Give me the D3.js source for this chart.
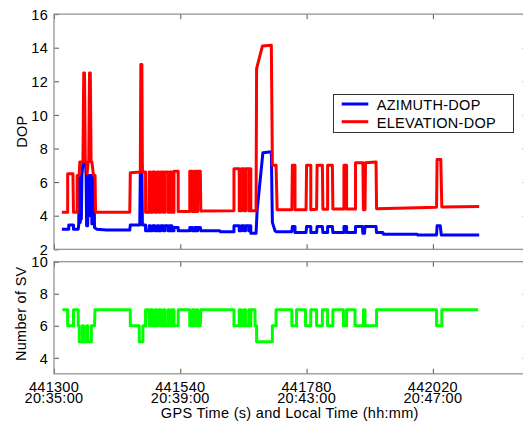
<!DOCTYPE html>
<html><head><meta charset="utf-8">
<script src="https://cdn.jsdelivr.net/npm/d3@7"></script>
<style>
html,body{margin:0;padding:0;background:#fff;}
svg{display:block;font-family:"Liberation Sans",Arial,sans-serif;}
text{font-size:14.5px;letter-spacing:0.3px;fill:#000;}
</style></head>
<body>
<svg id="chart" width="523" height="428"></svg>
<script>
// ---- data ----
const xTicks = [441300, 441540, 441780, 442020];
const xTickGps = ["441300", "441540", "441780", "442020"];
const xTickLocal = ["20:35:00", "20:39:00", "20:43:00", "20:47:00"];
const dopTicks = [2, 4, 6, 8, 10, 12, 14, 16];
const svTicks = [4, 6, 8, 10];
const seriesNames = ["AZIMUTH-DOP", "ELEVATION-DOP"];

// [GPS time (s), DOP]
const azimuthDop = [
[441315,3.2],[441328,3.2],[441328,3.45],[441337,3.45],[441337,3.2],[441346,3.2],[441347,3.45],[441348,6.4],[441350,3.6],[441351,6.4],[441352,3.8],[441353,6.4],[441355,7.1],[441360,7.1],[441361,6.4],[441362,3.4],[441364,3.4],[441365,6.4],[441367,4.0],[441368,6.4],[441371,6.4],[441372,3.5],[441373,6.4],[441376,6.4],[441377,3.3],[441381,3.2],[441400,3.15],[441444,3.15],[441445,3.45],[441463,3.45],[441464,6.5],[441465,7.0],[441467,7.0],[441468,3.45],[441474,3.45],[441474,3.1],[441480,3.1],[441481,3.4],[441483,3.4],[441483,3.1],[441487,3.1],[441487,3.4],[441492,3.4],[441492,3.1],[441496,3.1],[441496,3.4],[441499,3.4],[441500,3.1],[441503,3.1],[441503,3.4],[441508,3.4],[441508,3.1],[441511,3.1],[441511,3.4],[441517,3.4],[441517,3.1],[441520,3.1],[441520,3.4],[441524,3.4],[441524,3.1],[441528,3.1],[441528,3.3],[441536,3.3],[441536,3.1],
[441558,3.1],[441558,3.3],[441563,3.3],[441563,3.1],[441567,3.1],[441567,3.3],[441571,3.3],[441571,3.1],[441573,3.1],[441573,3.3],[441578,3.3],[441579,3.1],[441615,3.1],[441616,3.05],[441642,3.05],[441642,3.4],[441652,3.4],[441652,3.1],[441656,3.1],[441656,3.4],[441661,3.4],[441661,3.1],[441664,3.1],[441664,3.4],[441670,3.4],[441670,3.1],[441672,3.1],[441672,3.4],[441674,3.4],[441674,2.95],[441684,2.95],[441686,4.3],[441697,7.75],[441713,7.8],[441715,3.6],[441720,3.1],[441722,3.05],
[441752,3.05],[441753,3.35],[441758,3.35],[441758,3.0],[441779,3.0],[441780,3.35],[441788,3.35],[441788,3.0],[441799,3.0],[441800,3.35],[441810,3.35],[441811,3.0],[441820,3.0],[441820,3.35],[441829,3.35],[441830,3.0],[441851,3.0],[441851,3.35],[441856,3.35],[441856,3.0],[441873,3.0],[441873,3.35],[441886,3.35],[441887,2.95],[441890,2.95],[441891,3.35],[441912,3.35],[441913,3.0],[441925,3.0],[441926,2.9],[441990,2.9],[441991,2.85],[442027,2.85],[442028,3.4],[442034,3.4],[442036,2.85],[442108,2.85]
];

const elevationDop = [
[441315,4.2],[441326,4.2],[441326,6.5],[441336,6.5],[441337,4.2],[441344,4.2],[441344,6.4],[441348,6.4],[441349,7.2],[441355,7.2],[441356.5,12.5],[441358,12.5],[441359.5,7.2],[441362,7.2],[441363,6.5],[441365,7.2],[441366,7.2],[441367.5,12.5],[441369,12.5],[441370.5,7.2],[441372,7.2],[441375,6.4],[441378,6.4],[441379,4.2],
[441444,4.2],[441445,6.55],[441464,6.6],[441465,13.0],[441467,13.0],[441468,6.6],[441474,6.6],[441474,4.2],[441480,4.2],[441481,6.6],[441483,6.6],[441483,4.2],[441487,4.2],[441487,6.6],[441492,6.6],[441492,4.2],[441496,4.2],[441496,6.6],[441499,6.6],[441500,4.2],[441503,4.2],[441503,6.6],[441508,6.6],[441508,4.2],[441511,4.2],[441511,6.6],[441517,6.6],[441517,4.2],[441520,4.2],[441520,6.6],[441524,6.6],[441524,4.2],[441528,4.2],[441528,6.65],[441536,6.65],[441536,4.25],
[441558,4.25],[441558,6.65],[441563,6.65],[441563,4.25],[441567,4.25],[441567,6.65],[441571,6.65],[441571,4.25],[441573,4.25],[441573,6.65],[441578,6.65],[441579,4.28],
[441642,4.3],[441642,6.8],[441652,6.8],[441652,4.3],[441656,4.3],[441656,6.8],[441661,6.8],[441661,4.3],[441664,4.3],[441664,6.8],[441670,6.8],[441670,4.3],[441672,4.3],[441672,6.8],[441674,6.8],[441674,4.3],[441684,4.3],[441685,12.75],[441696,14.1],[441713,14.15],[441715,7.0],[441722,7.0],[441724,4.35],
[441752,4.35],[441753,7.0],[441758,7.0],[441758,4.35],[441779,4.35],[441780,7.0],[441788,7.0],[441788,4.35],[441799,4.38],[441800,7.0],[441810,7.0],[441811,4.38],[441820,4.38],[441820,7.0],[441829,7.0],[441830,4.4],[441851,4.4],[441851,7.0],[441856,7.0],[441856,4.4],[441873,4.4],[441873,7.15],[441887,7.15],[441888,4.35],[441891,4.35],[441892,7.15],[441912,7.2],[441913,4.42],[442027,4.5],[442028,7.35],[442035,7.35],[442037,4.52],[442108,4.55]
];

// [GPS time (s), number of satellites]
const svCount = [
[441316,7],[441326,7],[441326,6],[441337,6],[441337,7],[441346,7],[441346,6],[441348,6],[441348,5],[441354,5],[441354,6],[441356,6],[441356,5],[441362,5],[441362,6],[441364,6],[441364,5],[441371,5],[441371,6],[441377,6],[441378,7],[441445,7],[441445,6],[441462,6],[441462,5],[441469,5],[441469,6],[441474,6],[441474,7],[441480,7],[441481,6],[441483,6],[441483,7],[441487,7],[441487,6],[441492,6],[441492,7],[441496,7],[441496,6],[441499,6],[441500,7],[441503,7],[441503,6],[441508,6],[441508,7],[441511,7],[441511,6],[441517,6],[441517,7],[441520,7],[441520,6],[441524,6],[441524,7],[441528,7],[441528,6],[441536,6],[441536,7],
[441558,7],[441558,6],[441563,6],[441563,7],[441567,7],[441567,6],[441571,6],[441571,7],[441573,7],[441573,6],[441578,6],[441579,7],
[441642,7],[441642,6],[441652,6],[441652,7],[441656,7],[441656,6],[441661,6],[441661,7],[441664,7],[441664,6],[441670,6],[441670,7],[441672,7],[441672,6],[441674,6],[441674,7],[441682,7],[441682,6],[441685,6],[441685,5],[441715,5],[441715,6],[441722,6],[441722,7],
[441752,7],[441752,6],[441761,6],[441761,7],[441778,7],[441778,6],[441788,6],[441788,7],[441799,7],[441799,6],[441810,6],[441810,7],[441820,7],[441820,6],[441830,6],[441830,7],[441850,7],[441850,6],[441856,6],[441856,7],[441872,7],[441872,6],[441888,6],[441888,7],[441891,7],[441891,6],[441913,6],[441913,7],[442027,7],[442027,6],[442037,6],[442037,7],[442106,7]
];

// ---- layout ----
const svg = d3.select("#chart");
const L = 54, R = 527.6;
const top1 = 14.1, bot1 = 249.3;
const top2 = 261.7, bot2 = 373.8;
const axisColor = "#8c8c8c";
const tickLen = 5;

const x = d3.scaleLinear().domain([441300, 442200]).range([L, R]);
const yDop = d3.scaleLinear().domain([2, 16]).range([bot1, top1]);
const ySv = d3.scaleLinear().domain([3, 10]).range([bot2, top2]);

function frame(y, yt, t, b) {
  const g = svg.append("g");
  const gl = g.append("g").attr("transform", `translate(${L},0)`)
    .call(d3.axisLeft(y).tickValues(yt).tickFormat(d3.format("d")).tickSizeInner(-tickLen).tickSizeOuter(0).tickPadding(6));
  const gr = g.append("g").attr("transform", `translate(${R},0)`)
    .call(d3.axisRight(y).tickValues(yt).tickSizeInner(-tickLen).tickSizeOuter(0).tickFormat(""));
  const gt = g.append("g").attr("transform", `translate(0,${t})`)
    .call(d3.axisTop(x).tickValues(xTicks).tickSizeInner(-tickLen).tickSizeOuter(0).tickFormat(""));
  const gb = g.append("g").attr("transform", `translate(0,${b})`)
    .call(d3.axisBottom(x).tickValues(xTicks).tickSizeInner(-tickLen).tickSizeOuter(0).tickFormat(""));
  [gl, gr, gt, gb].forEach(a => {
    a.select(".domain").remove();
    a.selectAll(".tick line").attr("stroke", "#555").attr("stroke-width", 1);
  });
  gl.selectAll(".tick text").attr("font-size", null).attr("font-family", null)
    .attr("fill", "#000").attr("dy", "0.36em");
  g.append("rect").attr("x", L).attr("y", t).attr("width", R - L).attr("height", b - t)
    .attr("fill", "none").attr("stroke", axisColor).attr("stroke-width", 1.2);
  return g;
}

frame(yDop, dopTicks, top1, bot1);
frame(ySv, svTicks, top2, bot2);

// x tick labels (two lines in one text element)
const xl = svg.append("g");
xTicks.forEach((t, i) => {
  const tx = xl.append("text").attr("text-anchor", "middle");
  tx.append("tspan").attr("x", x(t)).attr("y", 391.7).text(xTickGps[i]);
  tx.append("tspan").attr("x", x(t)).attr("y", 402.9).text(xTickLocal[i]);
});

// axis titles
svg.append("text").attr("x", (L + R) / 2 - 1).attr("y", 417.5).attr("text-anchor", "middle")
  .text("GPS Time (s) and Local Time (hh:mm)");
svg.append("text").attr("transform", `translate(27,${(top1 + bot1) / 2}) rotate(-90)`)
  .attr("text-anchor", "middle").text("DOP");
svg.append("text").attr("transform", `translate(26,${(top2 + bot2) / 2 - 4}) rotate(-90)`)
  .attr("text-anchor", "middle").text("Number of SV");

// data lines
const lineDop = d3.line().x(d => x(d[0])).y(d => yDop(d[1]));
const lineSv = d3.line().x(d => x(d[0])).y(d => ySv(d[1]));
const style = (p, c) => p.attr("fill", "none").attr("stroke", c).attr("stroke-width", 3)
  .attr("stroke-linejoin", "round").attr("stroke-linecap", "butt");

style(svg.append("path").datum(azimuthDop).attr("d", lineDop), "#0000ff");
style(svg.append("path").datum(elevationDop).attr("d", lineDop), "#ff0000");
style(svg.append("path").datum(svCount).attr("d", lineSv), "#00ff00");

// legend
const lg = svg.append("g");
lg.append("rect").attr("x", 333.5).attr("y", 94.5).attr("width", 180).attr("height", 38)
  .attr("fill", "#fff").attr("stroke", "#333").attr("stroke-width", 1);
const legColors = ["#0000ff", "#ff0000"];
seriesNames.forEach((n, i) => {
  const yy = 104 + i * 17.7;
  lg.append("line").attr("x1", 341.7).attr("x2", 368.3).attr("y1", yy).attr("y2", yy)
    .attr("stroke", legColors[i]).attr("stroke-width", 3);
  lg.append("text").attr("x", 376.7).attr("y", yy + 5.9).text(n);
});
</script>
</body></html>
